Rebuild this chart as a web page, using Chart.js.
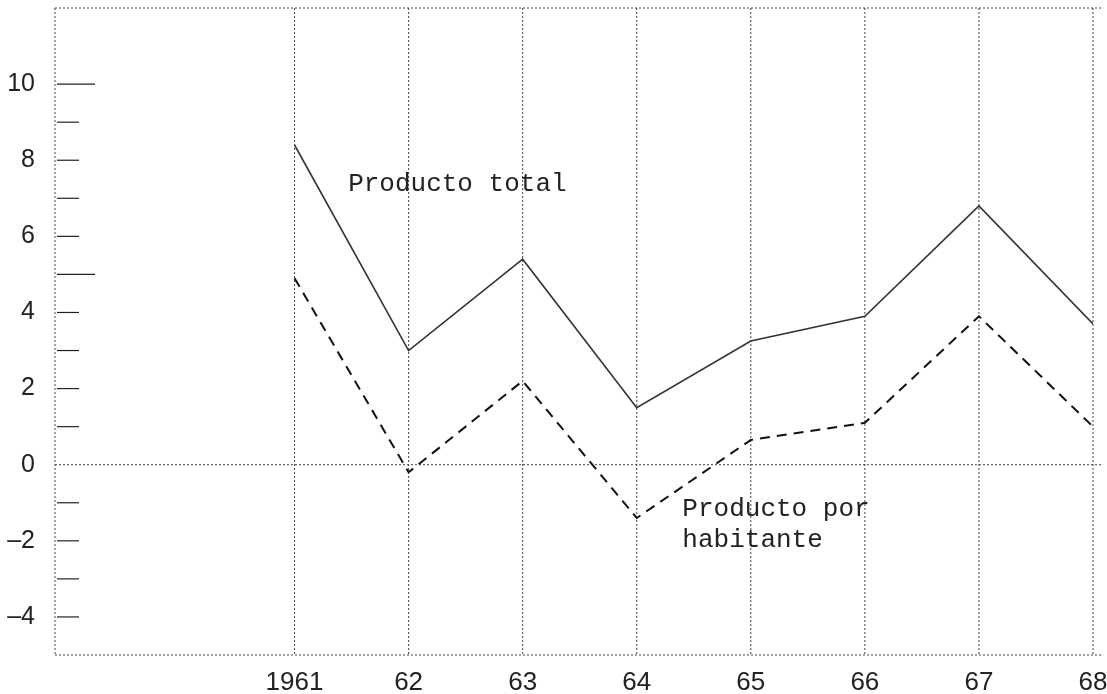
<!DOCTYPE html>
<html>
<head>
<meta charset="utf-8">
<script src="https://cdn.jsdelivr.net/npm/chart.js@4"></script>
<style>
html,body{margin:0;padding:0;background:#fff;}
#wrap{width:1107px;height:694px;position:relative;}
</style>
</head>
<body>
<div id="wrap"><canvas id="c" width="1107" height="694"></canvas></div>
<script>
const years = [1961, 1962, 1963, 1964, 1965, 1966, 1967, 1968];
const xTickLabels = ['1961', '62', '63', '64', '65', '66', '67', '68'];
const productoTotal = [8.4, 3.0, 5.4, 1.5, 3.25, 3.9, 6.8, 3.7];
const productoPorHabitante = [4.9, -0.2, 2.2, -1.4, 0.65, 1.1, 3.9, 1.0];
const yTickLabels = [-4, -2, 0, 2, 4, 6, 8, 10];

const ink = '#222';

const decor = {
  id: 'decor',
  beforeDatasetsDraw(chart) {
    const {ctx, chartArea: a, scales: {x, y}} = chart;
    ctx.save();
    ctx.strokeStyle = '#444';
    ctx.lineWidth = 1;
    ctx.setLineDash([2, 2]);
    const line = (x1, y1, x2, y2) => { ctx.beginPath(); ctx.moveTo(x1, y1); ctx.lineTo(x2, y2); ctx.stroke(); };
    line(a.left, a.top, a.left, a.bottom);
    line(a.left, a.top, a.right + 10, a.top);
    line(a.left, a.bottom, a.right + 10, a.bottom);
    years.forEach(v => { const px = x.getPixelForValue(v); line(px, a.top, px, a.bottom); });
    const y0 = y.getPixelForValue(0);
    line(a.left, y0, a.right + 10, y0);
    ctx.setLineDash([]);
    ctx.strokeStyle = ink;
    ctx.lineWidth = 1.2;
    for (let v = -4; v <= 10; v++) {
      if (v === 0) continue;
      const py = y.getPixelForValue(v);
      const len = (v === 10 || v === 5) ? 38 : 22;
      line(a.left + 2, py, a.left + 2 + len, py);
    }
    ctx.restore();
  },
  afterDatasetsDraw(chart) {
    const {ctx, scales: {x, y}} = chart;
    ctx.save();
    ctx.fillStyle = ink;
    ctx.font = '26px "Liberation Mono", "DejaVu Sans Mono", monospace';
    ctx.textBaseline = 'alphabetic';
    ctx.textAlign = 'left';
    ctx.fillText('Producto total', x.getPixelForValue(1961.47), y.getPixelForValue(7.2));
    ctx.fillText('Producto por', x.getPixelForValue(1964.4), y.getPixelForValue(-1.35));
    ctx.fillText('habitante', x.getPixelForValue(1964.4), y.getPixelForValue(-2.17));
    ctx.restore();
  }
};

new Chart(document.getElementById('c'), {
  type: 'line',
  data: {
    datasets: [
      {
        label: 'Producto total',
        data: years.map((v, i) => ({x: v, y: productoTotal[i]})),
        borderColor: '#333',
        borderWidth: 1.6,
        pointRadius: 0,
        tension: 0,
        fill: false
      },
      {
        label: 'Producto por habitante',
        data: years.map((v, i) => ({x: v, y: productoPorHabitante[i]})),
        borderColor: '#111',
        borderWidth: 2,
        borderDash: [10, 7],
        pointRadius: 0,
        tension: 0,
        fill: false
      }
    ]
  },
  options: {
    responsive: false,
    animation: false,
    layout: {padding: {top: 8, right: 14, left: 0, bottom: 0}},
    plugins: {legend: {display: false}, tooltip: {enabled: false}},
    scales: {
      x: {
        type: 'linear',
        min: 1958.9,
        max: 1968,
        grid: {display: false},
        border: {display: false},
        afterBuildTicks: s => { s.ticks = years.map(v => ({value: v})); },
        afterFit: s => { s.height = 39; s.paddingLeft = 0; s.paddingRight = 0; },
        ticks: {
          autoSkip: false,
          maxRotation: 0,
          padding: 4,
          color: ink,
          font: {family: '"Liberation Sans", Arial, sans-serif', size: 26},
          callback: v => { const i = years.indexOf(v); return i >= 0 ? xTickLabels[i] : ''; }
        }
      },
      y: {
        type: 'linear',
        min: -5,
        max: 12,
        grid: {display: false},
        border: {display: false},
        afterFit: s => { s.width = 55; s.paddingTop = 0; s.paddingBottom = 0; },
        ticks: {
          stepSize: 1,
          padding: 12,
          color: ink,
          font: {family: '"Liberation Sans", Arial, sans-serif', size: 25},
          callback: v => yTickLabels.includes(v) ? String(v).replace('-', '\u2013') : ''
        }
      }
    }
  },
  plugins: [decor]
});
</script>
</body>
</html>
